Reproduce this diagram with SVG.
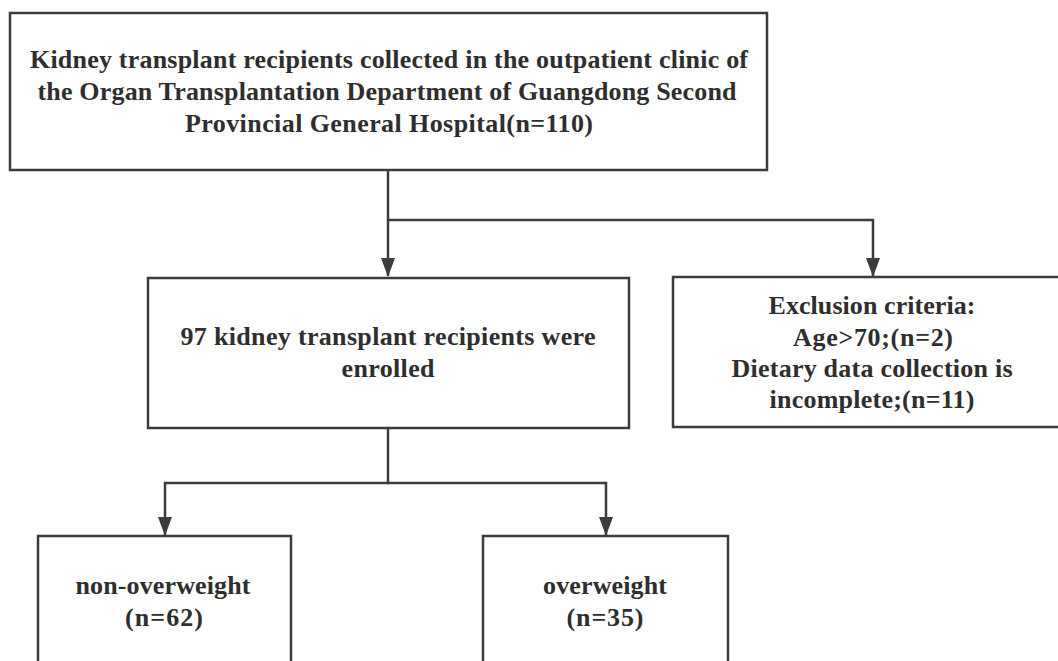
<svg xmlns="http://www.w3.org/2000/svg" width="1058" height="661" viewBox="0 0 1058 661">
<style>
.box{fill:#fff;stroke:#3c3c3c;stroke-width:2.5}
.t{font-family:'Liberation Serif','Times New Roman',serif;font-weight:700;font-size:26px;fill:#2e2e2e;text-anchor:middle}
.c{fill:none;stroke:#3c3c3c;stroke-width:2.5}
</style>
<defs>
<marker id="ah" markerUnits="userSpaceOnUse" markerWidth="20" markerHeight="14" refX="18" refY="7" orient="auto" viewBox="0 0 20 14">
<path d="M0,0 L19,7 L0,14 Z" fill="#3c3c3c"/>
</marker>
</defs>
<rect width="1058" height="661" fill="#fff"/>
<g id="connectors">
<path class="c" d="M388,170 V276" marker-end="url(#ah)"/>
<path class="c" d="M388,220 H873 V276" marker-end="url(#ah)"/>
<path class="c" d="M388,428 V483 H165 V535" marker-end="url(#ah)"/>
<path class="c" d="M388,483 H606 V535" marker-end="url(#ah)"/>
</g>
<g id="n1">
<rect class="box" x="10" y="13" width="757" height="157"/>
<text class="t" x="389" y="68" textLength="718" lengthAdjust="spacing">Kidney transplant recipients collected in the outpatient clinic of</text>
<text class="t" x="387" y="100" textLength="699" lengthAdjust="spacing">the Organ Transplantation Department of Guangdong Second</text>
<text class="t" x="389" y="132" textLength="408" lengthAdjust="spacing">Provincial General Hospital(n=110)</text>
</g>
<g id="n2">
<rect class="box" x="148" y="278" width="481" height="150"/>
<text class="t" x="388" y="345" textLength="415" lengthAdjust="spacing">97 kidney transplant recipients were</text>
<text class="t" x="388" y="377" textLength="93" lengthAdjust="spacing">enrolled</text>
</g>
<g id="n3">
<rect class="box" x="673" y="277" width="392" height="150"/>
<text class="t" x="872" y="314" textLength="207" lengthAdjust="spacing">Exclusion criteria:</text>
<text class="t" x="873" y="346" textLength="160" lengthAdjust="spacing">Age&gt;70;(n=2)</text>
<text class="t" x="872" y="377" textLength="281" lengthAdjust="spacing">Dietary data collection is</text>
<text class="t" x="872" y="408" textLength="205" lengthAdjust="spacing">incomplete;(n=11)</text>
</g>
<g id="n4">
<rect class="box" x="38" y="536" width="253" height="140"/>
<text class="t" x="163" y="594" textLength="175" lengthAdjust="spacing">non-overweight</text>
<text class="t" x="164" y="626" textLength="78" lengthAdjust="spacing">(n=62)</text>
</g>
<g id="n5">
<rect class="box" x="483" y="536" width="245" height="140"/>
<text class="t" x="605" y="594" textLength="124" lengthAdjust="spacing">overweight</text>
<text class="t" x="605" y="626" textLength="77" lengthAdjust="spacing">(n=35)</text>
</g>
</svg>
